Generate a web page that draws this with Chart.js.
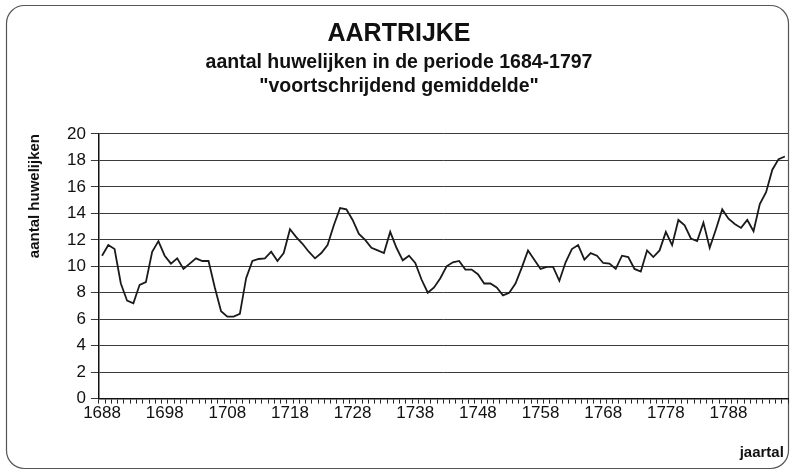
<!DOCTYPE html>
<html>
<head>
<meta charset="utf-8">
<title>Aartrijke huwelijken</title>
<script src="https://cdn.jsdelivr.net/npm/chart.js@4"></script>
<style>
  body { margin: 0; background: #fff; }
  #wrap { width: 794px; height: 475px; }
</style>
</head>
<body>
<div id="wrap"><canvas id="chart1" width="794" height="475"></canvas></div>
<script>
// years 1688 - 1797 (categories)
const years = [
  1688, 1689, 1690, 1691, 1692, 1693, 1694, 1695, 1696, 1697,
  1698, 1699, 1700, 1701, 1702, 1703, 1704, 1705, 1706, 1707,
  1708, 1709, 1710, 1711, 1712, 1713, 1714, 1715, 1716, 1717,
  1718, 1719, 1720, 1721, 1722, 1723, 1724, 1725, 1726, 1727,
  1728, 1729, 1730, 1731, 1732, 1733, 1734, 1735, 1736, 1737,
  1738, 1739, 1740, 1741, 1742, 1743, 1744, 1745, 1746, 1747,
  1748, 1749, 1750, 1751, 1752, 1753, 1754, 1755, 1756, 1757,
  1758, 1759, 1760, 1761, 1762, 1763, 1764, 1765, 1766, 1767,
  1768, 1769, 1770, 1771, 1772, 1773, 1774, 1775, 1776, 1777,
  1778, 1779, 1780, 1781, 1782, 1783, 1784, 1785, 1786, 1787,
  1788, 1789, 1790, 1791, 1792, 1793, 1794, 1795, 1796, 1797
];

// moving average of marriages
const huwelijken = [
  10.8, 11.6, 11.3, 8.7, 7.4, 7.2, 8.6, 8.8, 11.1, 11.9,
  10.8, 10.2, 10.6, 9.8, 10.2, 10.6, 10.4, 10.4, 8.4, 6.6,
  6.2, 6.2, 6.4, 9.1, 10.4, 10.55, 10.6, 11.1, 10.4, 11.0,
  12.8, 12.2, 11.7, 11.1, 10.6, 11.0, 11.6, 13.1, 14.4, 14.3,
  13.5, 12.45, 12.0, 11.4, 11.2, 11.0, 12.6, 11.4, 10.45, 10.8,
  10.25, 9.0, 8.0, 8.4, 9.1, 10.0, 10.3, 10.4, 9.75, 9.75,
  9.4, 8.7, 8.7, 8.4, 7.8, 8.0, 8.7, 9.9, 11.2, 10.5,
  9.8, 9.95, 9.95, 8.9, 10.3, 11.3, 11.6, 10.5, 11.0, 10.8,
  10.25, 10.2, 9.8, 10.8, 10.7, 9.8, 9.6, 11.2, 10.7, 11.2,
  12.6, 11.6, 13.5, 13.1, 12.1, 11.9, 13.3, 11.4, 12.8, 14.3,
  13.6, 13.2, 12.9, 13.5, 12.65, 14.7, 15.6, 17.3, 18.1, 18.3
];

// only these years get a label on the x axis
const xTickLabels = ['1688', '1698', '1708', '1718', '1728', '1738', '1748', '1758', '1768', '1778', '1788'];

const FONT = '"Liberation Sans", Arial, sans-serif';

// rounded frame round the whole chart
const framePlugin = {
  id: 'frame',
  beforeDraw(chart) {
    const ctx = chart.ctx;
    ctx.save();
    ctx.fillStyle = '#fff';
    ctx.fillRect(0, 0, chart.width, chart.height);
    ctx.beginPath();
    ctx.roundRect(6.5, 5.5, 782, 463, 18);
    ctx.strokeStyle = '#555';
    ctx.lineWidth = 1.2;
    ctx.stroke();
    ctx.restore();
  }
};

const chart = new Chart(document.getElementById('chart1'), {
  type: 'line',
  data: {
    labels: years.map(String),
    datasets: [{
      label: 'aantal huwelijken',
      data: huwelijken,
      borderColor: '#1a1a1a',
      borderWidth: 1.8,
      pointRadius: 0,
      tension: 0,
      fill: false
    }]
  },
  options: {
    responsive: false,
    animation: false,
    devicePixelRatio: 1,
    layout: { padding: { top: 10, left: 10, right: 6, bottom: 10 } },
    plugins: {
      legend: { display: false },
      tooltip: { enabled: false },
      title: {
        display: true,
        text: 'AARTRIJKE',
        color: '#111',
        font: { family: FONT, size: 25, weight: 'bold', lineHeight: 1.2 },
        padding: { top: 9, bottom: 2 }
      },
      subtitle: {
        display: true,
        text: ['aantal huwelijken in de periode 1684-1797', '"voortschrijdend gemiddelde"'],
        color: '#111',
        font: { family: FONT, size: 19.5, weight: 'bold', lineHeight: 1.23 },
        padding: { top: 0, bottom: 35 }
      }
    },
    scales: {
      x: {
        type: 'category',
        offset: true,
        border: { display: true, color: '#111', width: 1.5 },
        grid: {
          offset: true,
          drawOnChartArea: false,
          drawTicks: true,
          tickLength: 5,
          color: '#222'
        },
        ticks: {
          autoSkip: false,
          maxRotation: 0,
          minRotation: 0,
          padding: 0,
          color: '#111',
          font: { family: FONT, size: 17 },
          callback: function(value, index) {
            const lab = this.getLabelForValue(value);
            return xTickLabels.includes(lab) ? lab : '';
          }
        },
        title: {
          display: true,
          text: 'jaartal ',
          align: 'end',
          color: '#111',
          font: { family: FONT, size: 15, weight: 'bold' },
          padding: { top: 20, bottom: 3 }
        }
      },
      y: {
        min: 0,
        max: 20,
        border: { display: true, color: '#111', width: 1.5 },
        grid: {
          color: '#3a3a3a',
          lineWidth: 1,
          drawTicks: true,
          tickLength: 8
        },
        ticks: {
          stepSize: 2,
          padding: 5,
          color: '#111',
          font: { family: FONT, size: 17 }
        },
        title: {
          display: true,
          text: 'aantal huwelijken',
          align: 'end',
          color: '#111',
          font: { family: FONT, size: 15, weight: 'bold' },
          padding: { top: 16, bottom: 18 }
        }
      }
    }
  },
  plugins: [framePlugin]
});
</script>
</body>
</html>
